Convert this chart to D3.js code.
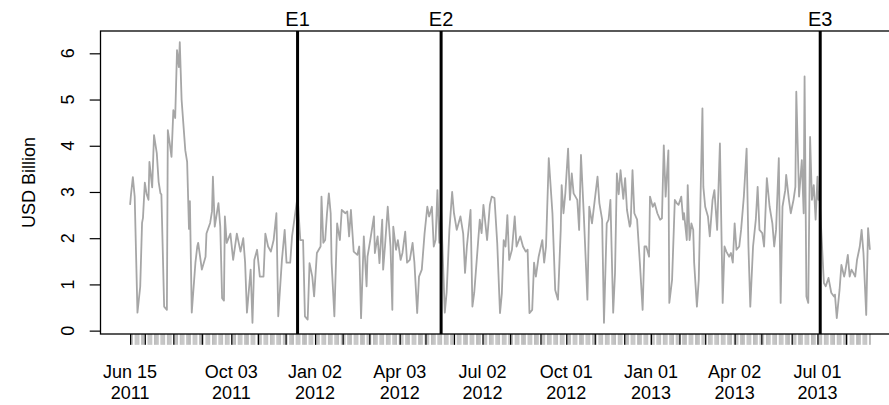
<!DOCTYPE html>
<html>
<head>
<meta charset="utf-8">
<script src="https://cdn.jsdelivr.net/npm/d3@7"></script>
<style>
	body { margin: 0; background: #fff; }
	svg { display: block; font-family: "Liberation Sans", Arial, Helvetica, sans-serif; }
</style>
</head>
<body>
<svg></svg>
<script>
// daily volume (days counted from startDate)
const startDate = "2011-06-15";
const dayOffset = [
	0, 1, 3, 5, 8, 11, 13, 14, 16, 18, 20, 21, 24, 26, 29, 31, 33, 34, 37, 40,
	41, 43, 45, 47, 49, 51, 53, 54, 56, 60, 62, 64, 65, 67, 71, 73, 74, 78, 82, 83,
	87, 89, 90, 92, 96, 98, 100, 102, 103, 105, 109, 112, 116, 120, 123, 125, 127, 131, 133, 135,
	138, 141, 145, 147, 150, 153, 156, 159, 161, 165, 168, 170, 174, 176, 179, 182, 185, 188, 190, 193,
	195, 198, 200, 203, 207, 208, 210, 212, 214, 216, 218, 219, 222, 225, 228, 230, 234, 236, 238, 240,
	243, 247, 249, 251, 254, 257, 258, 261, 265, 266, 269, 271, 274, 275, 277, 280, 283, 285, 286, 289,
	291, 294, 296, 299, 301, 304, 307, 309, 312, 314, 317, 320, 323, 325, 328, 330, 332, 334, 336, 338,
	342, 344, 347, 350, 352, 355, 359, 362, 364, 366, 370, 372, 374, 377, 380, 382, 384, 388, 391, 393,
	396, 399, 402, 404, 406, 408, 410, 412, 415, 418, 420, 424, 427, 430, 432, 434, 437, 439, 441, 444,
	448, 450, 452, 455, 459, 462, 465, 468, 469, 471, 473, 476, 478, 480, 482, 486, 488, 490, 493, 497,
	499, 502, 505, 508, 510, 513, 515, 518, 520, 522, 525, 527, 529, 531, 533, 536, 538, 540, 543, 544,
	546, 548, 551, 554, 557, 559, 561, 564, 565, 568, 570, 573, 576, 578, 580, 582, 585, 586, 589, 592,
	594, 596, 599, 601, 602, 605, 606, 608, 610, 612, 613, 616, 618, 622, 623, 625, 628, 630, 633, 635,
	638, 641, 644, 646, 648, 651, 653, 655, 657, 659, 662, 664, 667, 670, 672, 674, 677, 680, 682, 684,
	687, 689, 692, 695, 698, 700, 702, 705, 707, 709, 712, 713, 716, 718, 721, 723, 724, 727, 730, 732,
	733, 735, 737, 739, 741, 743, 745, 747, 748, 749, 754, 756, 759, 762, 765, 766, 768, 771, 773, 776,
	777, 780, 782, 784, 786, 788, 790, 793, 795, 797, 800, 802, 804
];
const usdBillion = [
	2.72, 2.95, 3.32, 2.9, 0.39, 0.95, 2.33, 2.44, 3.2, 2.95, 2.83, 3.65, 3.1, 4.23, 3.84, 3.22, 2.97, 2.95, 0.52, 0.45,
	4.34, 4.06, 3.76, 4.77, 4.6, 6.07, 5.7, 6.24, 4.99, 3.9, 3.65, 2.2, 2.8, 0.39, 1.47, 1.82, 1.9, 1.32, 1.6, 2.1,
	2.33, 2.58, 3.33, 2.25, 2.76, 2.25, 0.7, 0.65, 2.47, 1.9, 2.1, 1.53, 2.1, 1.71, 2.0, 1.47, 0.39, 1.32, 0.17, 1.53,
	1.75, 1.17, 1.17, 2.1, 1.82, 1.71, 1.96, 2.54, 0.31, 1.53, 2.18, 1.47, 1.47, 2.04, 2.47, 2.9, 1.96, 1.96, 0.31, 0.24,
	1.46, 1.17, 0.74, 1.68, 1.82, 2.9, 1.9, 1.96, 2.54, 2.97, 2.54, 1.47, 0.31, 2.32, 1.96, 2.61, 2.54, 2.58, 2.04, 2.61,
	1.71, 1.64, 1.82, 0.27, 2.04, 0.96, 1.6, 1.96, 2.47, 1.68, 2.04, 1.46, 2.4, 1.32, 1.82, 2.68, 1.82, 0.45, 2.25, 1.75,
	1.96, 1.53, 1.68, 2.14, 1.47, 1.53, 1.9, 1.47, 0.38, 1.17, 1.32, 2.1, 2.68, 2.47, 2.68, 1.82, 1.96, 3.04, 1.9, 2.6,
	0.39, 0.82, 2.18, 3.0, 2.54, 2.18, 2.47, 2.1, 1.25, 1.82, 2.61, 0.52, 0.82, 1.6, 2.4, 2.11, 2.72, 1.96, 2.72, 2.9,
	2.87, 1.89, 0.38, 0.8, 1.96, 1.82, 2.5, 1.53, 1.75, 2.47, 1.82, 2.04, 1.82, 1.71, 1.75, 0.38, 0.45, 1.47, 1.17, 1.6,
	1.96, 1.47, 1.82, 3.73, 2.54, 0.88, 0.67, 2.18, 3.15, 2.54, 2.97, 3.94, 2.83, 3.4, 2.97, 2.83, 2.18, 3.8, 2.54, 0.67,
	2.68, 2.32, 2.83, 3.33, 2.76, 2.4, 0.17, 2.32, 2.4, 2.83, 0.39, 1.25, 3.4, 2.95, 3.47, 2.85, 3.3, 2.61, 2.25, 2.32,
	3.47, 2.54, 2.4, 1.47, 0.45, 1.82, 1.82, 1.6, 2.9, 2.68, 2.76, 2.54, 2.4, 2.43, 4.01, 2.9, 3.9, 0.6, 1.1, 2.83,
	2.76, 2.72, 2.9, 2.4, 2.54, 1.96, 3.15, 1.96, 2.32, 2.18, 1.47, 0.52, 1.1, 4.81, 3.11, 2.68, 2.47, 2.04, 2.83, 3.04,
	2.18, 4.05, 0.6, 1.82, 1.71, 1.6, 1.68, 1.47, 2.32, 1.75, 1.82, 2.18, 2.9, 3.94, 1.82, 0.52, 1.82, 2.4, 3.11, 2.18,
	2.11, 1.82, 3.3, 2.68, 2.32, 1.82, 2.18, 3.73, 0.6, 2.68, 3.04, 3.37, 2.83, 2.54, 2.83, 3.11, 5.17, 2.9, 3.69, 2.54,
	5.5, 0.74, 0.6, 4.19, 2.83, 3.15, 2.4, 3.33, 2.83, 3.0, 1.03, 0.96, 1.14, 0.82, 0.74, 0.78, 0.27, 0.88, 1.42, 1.17,
	1.25, 1.64, 1.17, 1.32, 1.25, 1.17, 1.53, 1.82, 2.18, 1.68, 0.34, 2.22, 1.75
];

const eventNames = ["E1", "E2", "E3"];
const eventDates = ["2011-12-14", "2012-05-18", "2013-07-04"];
const labelDates = [
	"2011-06-15", "2011-10-03", "2012-01-02", "2012-04-03", "2012-07-02",
	"2012-10-01", "2013-01-01", "2013-04-02", "2013-07-01"
];
const yTicks = [0, 1, 2, 3, 4, 5, 6];

const size = { w: 889, h: 405 };
const box = { l: 100.5, t: 31, r: 899.5, b: 334 };
const tickLen = 10.8;

const svg = d3.select("svg").attr("width", size.w).attr("height", size.h);

const parse = d3.timeParse("%Y-%m-%d");
const t0 = parse(startDate);
const data = dayOffset.map((d, i) => ({ date: d3.timeDay.offset(t0, d), value: usdBillion[i] }));

// R style: 4% padding on both axes
const xExt = d3.extent(data, (d) => d.date);
const xPad = (xExt[1] - xExt[0]) * 0.04;
const x = d3
	.scaleTime()
	.domain([new Date(+xExt[0] - xPad), new Date(+xExt[1] + xPad)])
	.range([box.l, box.r]);

const yExt = d3.extent(usdBillion);
const yPad = (yExt[1] - yExt[0]) * 0.04;
const y = d3
	.scaleLinear()
	.domain([yExt[0] - yPad, yExt[1] + yPad])
	.range([box.b, box.t]);

// one grey tick per weekday observation
const obs = d3.timeDay
	.range(xExt[0], d3.timeDay.offset(xExt[1], 1))
	.filter((d) => d.getDay() % 6 !== 0);

const labels = labelDates.map(parse);
const majors = [labels[0]];
d3.timeMonth.range(d3.timeMonth.ceil(xExt[0]), xExt[1]).forEach((m) => {
	const lab = labels.find((l) => l.getFullYear() === m.getFullYear() && l.getMonth() === m.getMonth());
	majors.push(lab || obs.find((o) => o >= m));
});

const minorAxis = svg
	.append("g")
	.attr("transform", `translate(0,${box.b})`)
	.call(d3.axisBottom(x).tickValues(obs).tickSize(tickLen).tickFormat(""));
minorAxis.select(".domain").remove();
minorAxis.selectAll("line").attr("stroke", "#bbbbbb").attr("stroke-width", 1);

const majorAxis = svg
	.append("g")
	.attr("transform", `translate(0,${box.b})`)
	.call(d3.axisBottom(x).tickValues(majors).tickSize(tickLen).tickFormat(""));
majorAxis.select(".domain").remove();
majorAxis.selectAll("line").attr("stroke", "#000").attr("stroke-width", 1.2);

const fmtDay = d3.timeFormat("%b %d");
const fmtYear = d3.timeFormat("%Y");
const xLab = svg
	.append("g")
	.attr("font-size", 18)
	.attr("text-anchor", "middle")
	.selectAll("text")
	.data(labels)
	.join("text")
	.attr("x", (d) => x(d));
xLab.append("tspan").attr("x", (d) => x(d)).attr("y", 377.5).text(fmtDay);
xLab.append("tspan").attr("x", (d) => x(d)).attr("y", 399).text(fmtYear);

const yAxis = svg
	.append("g")
	.attr("transform", `translate(${box.l},0)`)
	.call(d3.axisLeft(y).tickValues(yTicks).tickSize(tickLen).tickFormat(""));
yAxis.select(".domain").remove();
yAxis.selectAll("line").attr("stroke", "#000").attr("stroke-width", 1.2);

svg
	.append("g")
	.attr("font-size", 18)
	.attr("text-anchor", "middle")
	.selectAll("text")
	.data(yTicks)
	.join("text")
	.attr("transform", (d) => `translate(74,${y(d)}) rotate(-90)`)
	.text((d) => d);

svg
	.append("text")
	.attr("font-size", 18)
	.attr("text-anchor", "middle")
	.attr("transform", `translate(35,${(box.t + box.b) / 2}) rotate(-90)`)
	.text("USD Billion");

const line = d3
	.line()
	.x((d) => x(d.date))
	.y((d) => y(d.value));

svg
	.append("path")
	.datum(data)
	.attr("fill", "none")
	.attr("stroke", "#a6a6a6")
	.attr("stroke-width", 1.8)
	.attr("stroke-linejoin", "round")
	.attr("d", line);

const events = eventDates.map((d, i) => ({ date: parse(d), name: eventNames[i] }));
const evG = svg.append("g").selectAll("g").data(events).join("g");
evG
	.append("line")
	.attr("x1", (d) => x(d.date))
	.attr("x2", (d) => x(d.date))
	.attr("y1", box.t)
	.attr("y2", box.b)
	.attr("stroke", "#000")
	.attr("stroke-width", 3);
evG
	.append("text")
	.attr("x", (d) => x(d.date))
	.attr("y", 26)
	.attr("font-size", 20)
	.attr("text-anchor", "middle")
	.text((d) => d.name);

svg
	.append("rect")
	.attr("x", box.l)
	.attr("y", box.t)
	.attr("width", box.r - box.l)
	.attr("height", box.b - box.t)
	.attr("fill", "none")
	.attr("stroke", "#000")
	.attr("stroke-width", 1.3);
</script>
</body>
</html>
